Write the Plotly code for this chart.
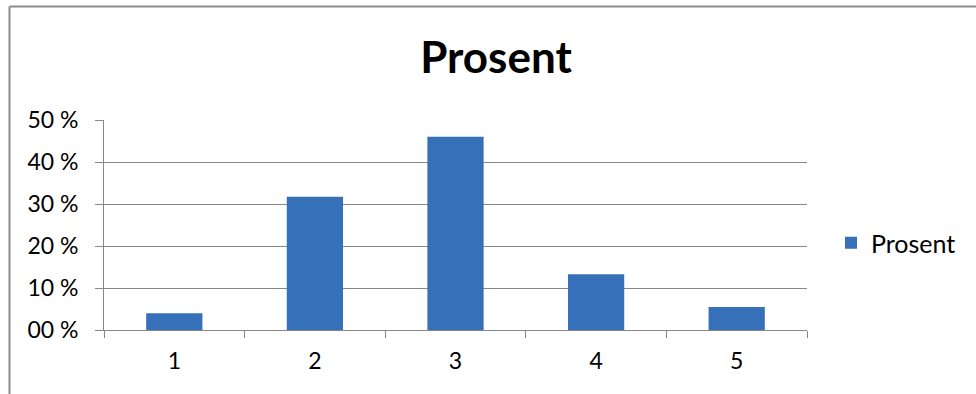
import plotly.graph_objects as go

categories = ["1", "2", "3", "4", "5"]
values = [4.0, 31.7, 46.0, 13.3, 5.5]
series_name = "Prosent"
y_tickvals = [0, 10, 20, 30, 40, 50]
y_ticktext = ["00 %", "10 %", "20 %", "30 %", "40 %", "50 %"]

FONT = "Lato, 'Open Sans', sans-serif"
GRID = "#878787"

fig = go.Figure()
fig.add_trace(go.Bar(
    x=categories, y=values, name=series_name,
    marker=dict(color="#3570B8", line=dict(width=0)),
    showlegend=True,
))

W, H = 976, 394
L, R, T, B = 104, 807, 120, 330
pw, ph = R - L, B - T

def px(x):
    return (x - L) / pw

def py(y):
    return (B - y) / ph

fig.update_layout(
    width=W, height=H,
    margin=dict(l=L, r=W - R, t=T, b=H - B, pad=0),
    paper_bgcolor="white", plot_bgcolor="white",
    font=dict(family=FONT, size=22, color="#000000"),
    title=dict(text="<b>Prosent</b>", x=496 / W, xanchor="center",
               y=1 - 58 / H, yanchor="middle",
               font=dict(family=FONT, size=44, color="#000000")),
    bargap=0.6,
    showlegend=True,
    legend=dict(x=px(831), xanchor="left", y=py(243), yanchor="middle",
                font=dict(family=FONT, size=25, color="#000000"),
                bgcolor="rgba(0,0,0,0)"),
    xaxis=dict(type="category", showline=True, linecolor=GRID, linewidth=1,
               ticks="outside", tickson="boundaries", ticklen=7, tickcolor=GRID,
               showgrid=False,
               tickfont=dict(family=FONT, size=23, color="#000000"),
               ticklabelstandoff=10),
    yaxis=dict(range=[0, 50], tickvals=y_tickvals, ticktext=y_ticktext,
               showline=True, linecolor=GRID, linewidth=1,
               ticks="outside", ticklen=8, tickcolor=GRID,
               showgrid=True, gridcolor=GRID, gridwidth=1, zeroline=False,
               tickfont=dict(family=FONT, size=23, color="#000000"),
               ticklabelstandoff=12),
    shapes=[
        dict(type="line", xref="paper", yref="paper",
             x0=px(9.5), x1=px(9.5), y0=py(6.5), y1=py(420),
             line=dict(color="#8c8c8c", width=2)),
        dict(type="line", xref="paper", yref="paper",
             x0=px(9.5), x1=px(1000), y0=py(6.5), y1=py(6.5),
             line=dict(color="#8c8c8c", width=2)),
    ],
)

fig.write_html("out.html")
